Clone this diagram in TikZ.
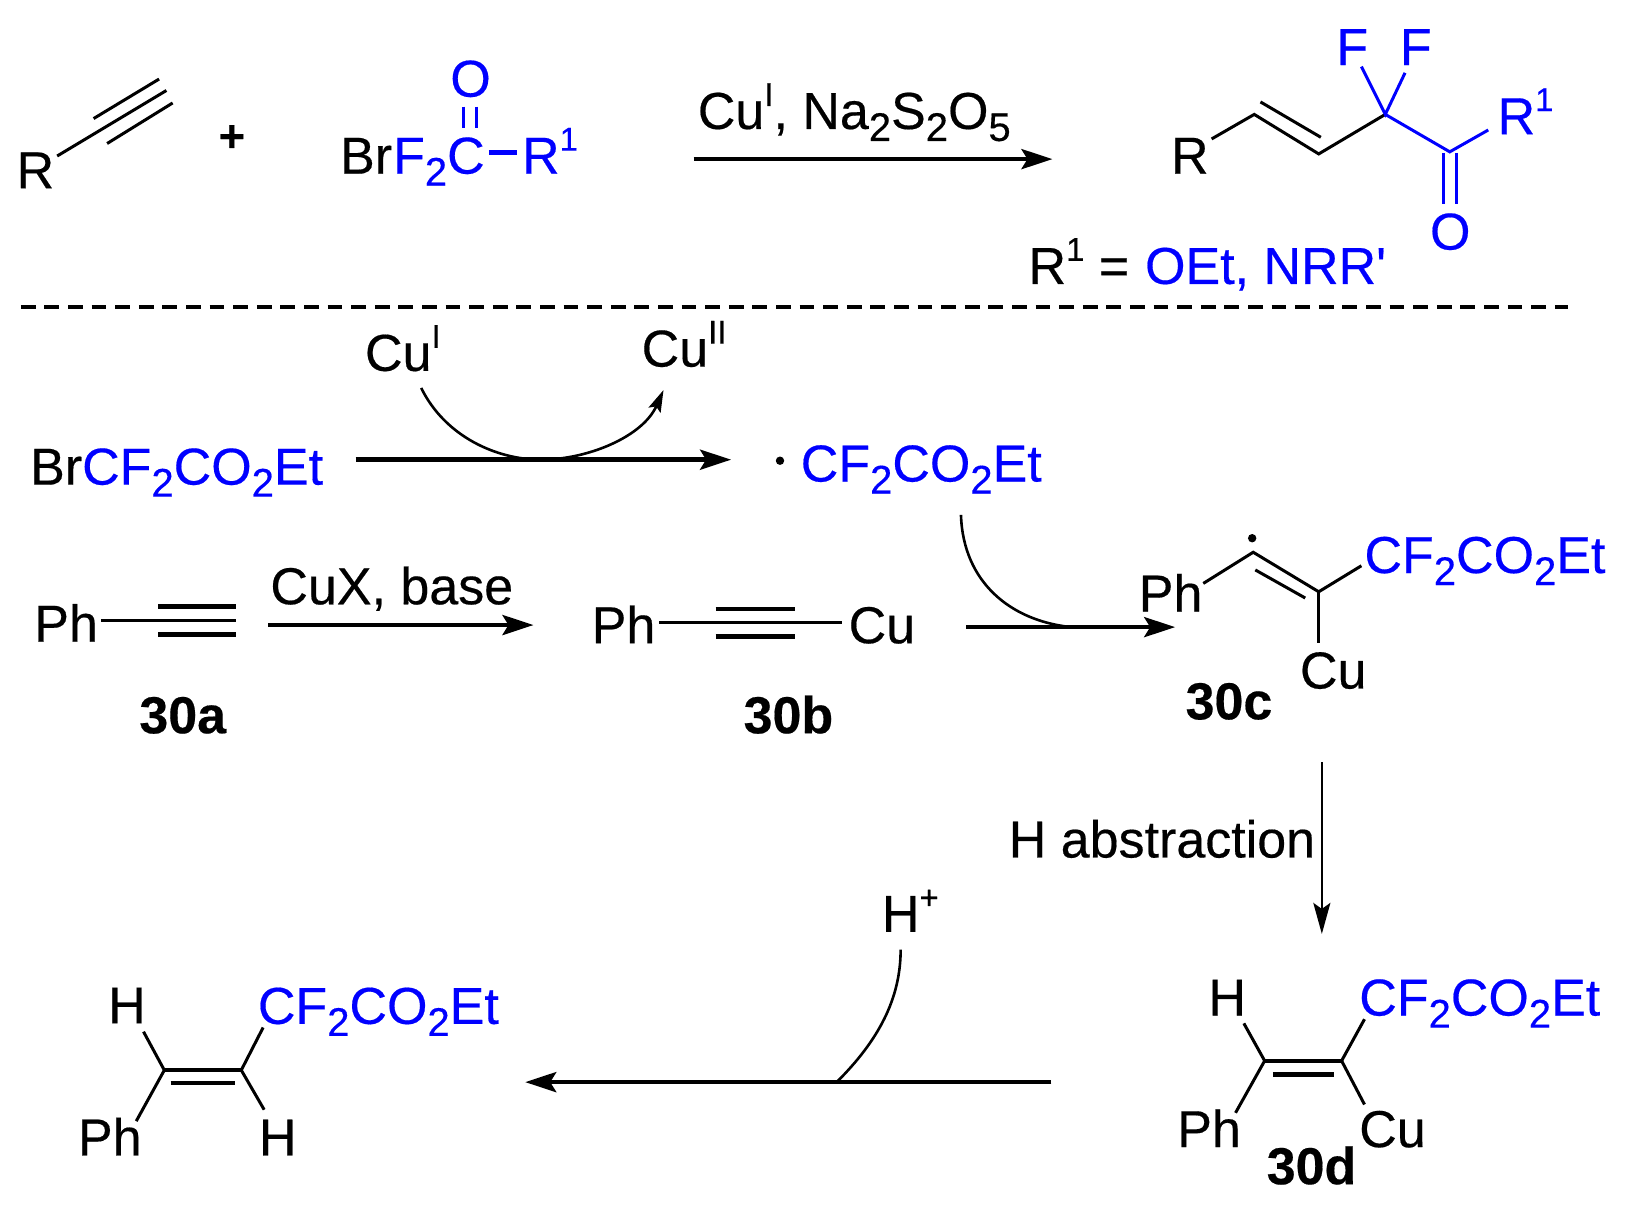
\documentclass[tikz,border=0pt]{standalone}
\usepackage{fontspec}
\setmainfont{Liberation Sans}[FakeBold=0.35]
\newfontfamily\plainsans{Liberation Sans}[FakeBold=0.35]
\usetikzlibrary{arrows.meta}
\definecolor{cblue}{RGB}{0,0,255}
\newcommand{\sbs}[1]{\raisebox{-6pt}{\fontsize{20}{20}\selectfont #1}}
\newcommand{\sps}[1]{\raisebox{11.5pt}{\fontsize{16.5}{18}\selectfont #1}}
\newcommand{\cfchain}{CF\sbs{2}CO\sbs{2}Et}
\tikzset{
  txt/.style={anchor=base west,inner sep=0pt,outer sep=0pt,font=\fontsize{26}{28}\selectfont},
  btxt/.style={txt,font=\fontsize{26}{28}\selectfont\bfseries},
  bl/.style={txt,text=cblue},
  bond/.style={line width=1.5pt,line cap=butt},
  bbond/.style={bond,draw=cblue},
  hbond/.style={line width=2.3pt},
  bigarrow/.style={line width=2.2pt,-{Stealth[length=15.5pt,width=10pt,inset=3pt]}},
  thinarrow/.style={line width=1.2pt,-{Stealth[length=15.5pt,width=8.5pt,inset=3pt]}},
  curve/.style={line width=1.3pt},
  dot/.style={circle,fill=black,inner sep=0pt,minimum size=4.2pt}
}
\begin{document}
\begin{tikzpicture}[x=0.52pt,y=-0.52pt]
\useasboundingbox[fill=white] (0,0) rectangle (1568.27,1161.54);
% --- top equation: reactants
\node[txt] (R0) at (16,181) {R};
\coordinate (a1) at (55,150); \coordinate (a2) at (160,87);
\coordinate (a3) at (90,114); \coordinate (a4) at (153,76);
\coordinate (a5) at (103,138); \coordinate (a6) at (166,99);
\draw[bond] (a1) -- (a2); \draw[bond] (a3) -- (a4); \draw[bond] (a5) -- (a6);
\node[txt,anchor=center] (plus) at (223,133) {\fontsize{22.5}{24}\selectfont\bfseries +};
\node[bl] (O0) at (433,93) {O};
\node[txt] (Br0) at (327,167) {Br};
\node[bl] (FC) at (378,167) {F\sbs{2}C};
\node[bl] (R10) at (502,167) {R\sps{1}};
\coordinate (c1) at (445.5,102.5); \coordinate (c2) at (445.5,123);
\coordinate (c3) at (458.5,102.5); \coordinate (c4) at (458.5,123);
\draw[bbond] (c1) -- (c2); \draw[bbond] (c3) -- (c4);
\coordinate (d1) at (470,146.7); \coordinate (d2) at (497,146.7);
\draw[draw=cblue,line width=2.2pt] (d1) -- (d2);
\node[txt] (cond1) at (671,124) {Cu\sps{I}, Na\sbs{2}S\sbs{2}O\sbs{5}};
\coordinate (ar1s) at (667,153); \coordinate (ar1e) at (1012,153);
\draw[bigarrow] (ar1s) -- (ar1e);
% --- top equation: product
\node[txt] (R2) at (1126,167) {R};
\coordinate (p1) at (1165,133.6); \coordinate (p2) at (1206,110);
\coordinate (p3) at (1268,148); \coordinate (p4) at (1332,110);
\coordinate (p5) at (1212,98); \coordinate (p6) at (1270,132);
\draw[bond] (p1) -- (p2) -- (p3) -- (p4); \draw[bond] (p5) -- (p6);
\coordinate (f1) at (1309,64); \coordinate (f2) at (1351,70);
\coordinate (p7) at (1394,146); \coordinate (p8) at (1431,125);
\draw[bbond] (f1) -- (p4) -- (f2); \draw[bbond] (p4) -- (p7) -- (p8);
\coordinate (o1) at (1388,147); \coordinate (o2) at (1388,196);
\coordinate (o3) at (1400,147); \coordinate (o4) at (1400,196);
\draw[bbond] (o1) -- (o2); \draw[bbond] (o3) -- (o4);
\node[bl] (F1) at (1285,62.5) {F};
\node[bl] (F2) at (1346,62.5) {F};
\node[bl] (R1p) at (1440,129) {R\sps{1}};
\node[bl] (O1) at (1375,240) {O};
\node[txt] (Rdef) at (989,273) {R\sps{1} =};
\node[bl] (Rval) at (1101,273) {OEt, NRR{\plainsans '}};
% --- divider
\coordinate (dl) at (20,295); \coordinate (dr) at (1508,295);
\draw[line width=2pt,dash pattern=on 7.4pt off 4.4pt] (dl) -- (dr);
% --- radical generation
\node[txt] (Cu1) at (351,356.6) {Cu\sps{I}};
\node[txt] (Cu2) at (617,352.5) {Cu\sps{II}};
\node[txt] (Br1) at (29,466) {Br};
\node[bl] (Ch1) at (79,466) {\cfchain};
\coordinate (ar2s) at (342,442); \coordinate (ar2e) at (703,442);
\draw[bigarrow] (ar2s) -- (ar2e);
\coordinate (k1) at (405,373); \coordinate (k2) at (520,442); \coordinate (k3) at (638,375);
\draw[curve,-{Stealth[length=11pt,width=6.5pt,inset=2pt]}] (k1) .. controls (428,420) and (478,442) .. (k2) .. controls (565,442) and (618,420) .. (k3);
\node[dot] (rad1) at (750,443) {};
\node[bl] (Ch2) at (770,463) {\cfchain};
\coordinate (k4) at (924,495); \coordinate (k5) at (1030,603);
\draw[curve] (k4) .. controls (926,560) and (972,597) .. (k5);
\coordinate (ar3s) at (929,603); \coordinate (ar3e) at (1130,603);
\draw[bigarrow] (ar3s) -- (ar3e);
% --- 30a
\node[txt] (Pha) at (33,617) {Ph};
\coordinate (t1) at (97,597); \coordinate (t2) at (227,597);
\coordinate (t3) at (152,583); \coordinate (t4) at (227,583);
\coordinate (t5) at (152,610); \coordinate (t6) at (227,610);
\draw[bond] (t1) -- (t2); \draw[hbond] (t3) -- (t4); \draw[hbond] (t5) -- (t6);
\node[txt] (cux) at (260,581) {CuX, base};
\coordinate (ar4s) at (258,601); \coordinate (ar4e) at (513,601);
\draw[bigarrow] (ar4s) -- (ar4e);
\node[btxt] (l30a) at (134,705) {30a};
% --- 30b
\node[txt] (Phb) at (569,618.5) {Ph};
\coordinate (u1) at (634,599); \coordinate (u2) at (810,599);
\coordinate (u3) at (688,585.5); \coordinate (u4) at (764,585.5);
\coordinate (u5) at (688,612); \coordinate (u6) at (764,612);
\draw[bond] (u1) -- (u2); \draw[hbond] (u3) -- (u4); \draw[hbond] (u5) -- (u6);
\node[txt] (Cub) at (816,618.5) {Cu};
\node[btxt] (l30b) at (715,705) {30b};
% --- 30c
\node[txt] (Phc) at (1095,588) {Ph};
\coordinate (v1) at (1157,561); \coordinate (v2) at (1205,531);
\coordinate (v3) at (1268,569); \coordinate (v4) at (1309,544);
\coordinate (v5) at (1268,618); \coordinate (v6) at (1207,548); \coordinate (v7) at (1255,575);
\draw[bond] (v1) -- (v2) -- (v3) -- (v4); \draw[bond] (v3) -- (v5); \draw[bond] (v6) -- (v7);
\node[dot] (rad2) at (1204,517.5) {};
\node[bl] (Chc) at (1312,551) {\cfchain};
\node[txt] (Cuc) at (1250,662) {Cu};
\node[btxt] (l30c) at (1140,691.6) {30c};
% --- step to 30d
\coordinate (ar5s) at (1271,733); \coordinate (ar5e) at (1271,898);
\draw[thinarrow] (ar5s) -- (ar5e);
\node[txt] (habs) at (970,824.5) {H abstraction};
% --- 30d
\node[txt] (Hd) at (1162,976.5) {H};
\node[bl] (Chd) at (1307,976.5) {\cfchain};
\coordinate (w1) at (1196,984); \coordinate (w2) at (1216,1020);
\coordinate (w3) at (1290,1020); \coordinate (w4) at (1312,980);
\coordinate (w5) at (1188,1070); \coordinate (w6) at (1312,1062);
\coordinate (w7) at (1224,1033); \coordinate (w8) at (1283,1033);
\draw[bond] (w1) -- (w2); \draw[bond] (w3) -- (w4); \draw[bond] (w2) -- (w5); \draw[bond] (w3) -- (w6);
\draw[hbond] (w2) -- (w3); \draw[hbond] (w7) -- (w8);
\node[txt] (Phd) at (1132,1103) {Ph};
\node[txt] (Cud) at (1307,1103) {Cu};
\node[btxt] (l30d) at (1218,1138.6) {30d};
% --- protonation
\node[txt] (Hp) at (848,896) {H\sps{+}};
\coordinate (k6) at (866,913); \coordinate (k7) at (805,1040);
\draw[curve] (k6) .. controls (866,960) and (845,1000) .. (k7);
\coordinate (ar6s) at (1011,1040.5); \coordinate (ar6e) at (505,1040.5);
\draw[bigarrow] (ar6s) -- (ar6e);
% --- product
\node[txt] (He1) at (104,984) {H};
\node[bl] (Che) at (248,984.5) {\cfchain};
\coordinate (x1) at (138,992); \coordinate (x2) at (158,1029);
\coordinate (x3) at (232,1029); \coordinate (x4) at (253,988);
\coordinate (x5) at (131,1078); \coordinate (x6) at (254,1067);
\coordinate (x7) at (164,1041.5); \coordinate (x8) at (226,1041.5);
\draw[bond] (x1) -- (x2); \draw[bond] (x3) -- (x4); \draw[bond] (x2) -- (x5); \draw[bond] (x3) -- (x6);
\draw[hbond] (x2) -- (x3); \draw[hbond] (x7) -- (x8);
\node[txt] (Phe) at (75,1111) {Ph};
\node[txt] (He2) at (249,1111) {H};
\end{tikzpicture}
\end{document}
